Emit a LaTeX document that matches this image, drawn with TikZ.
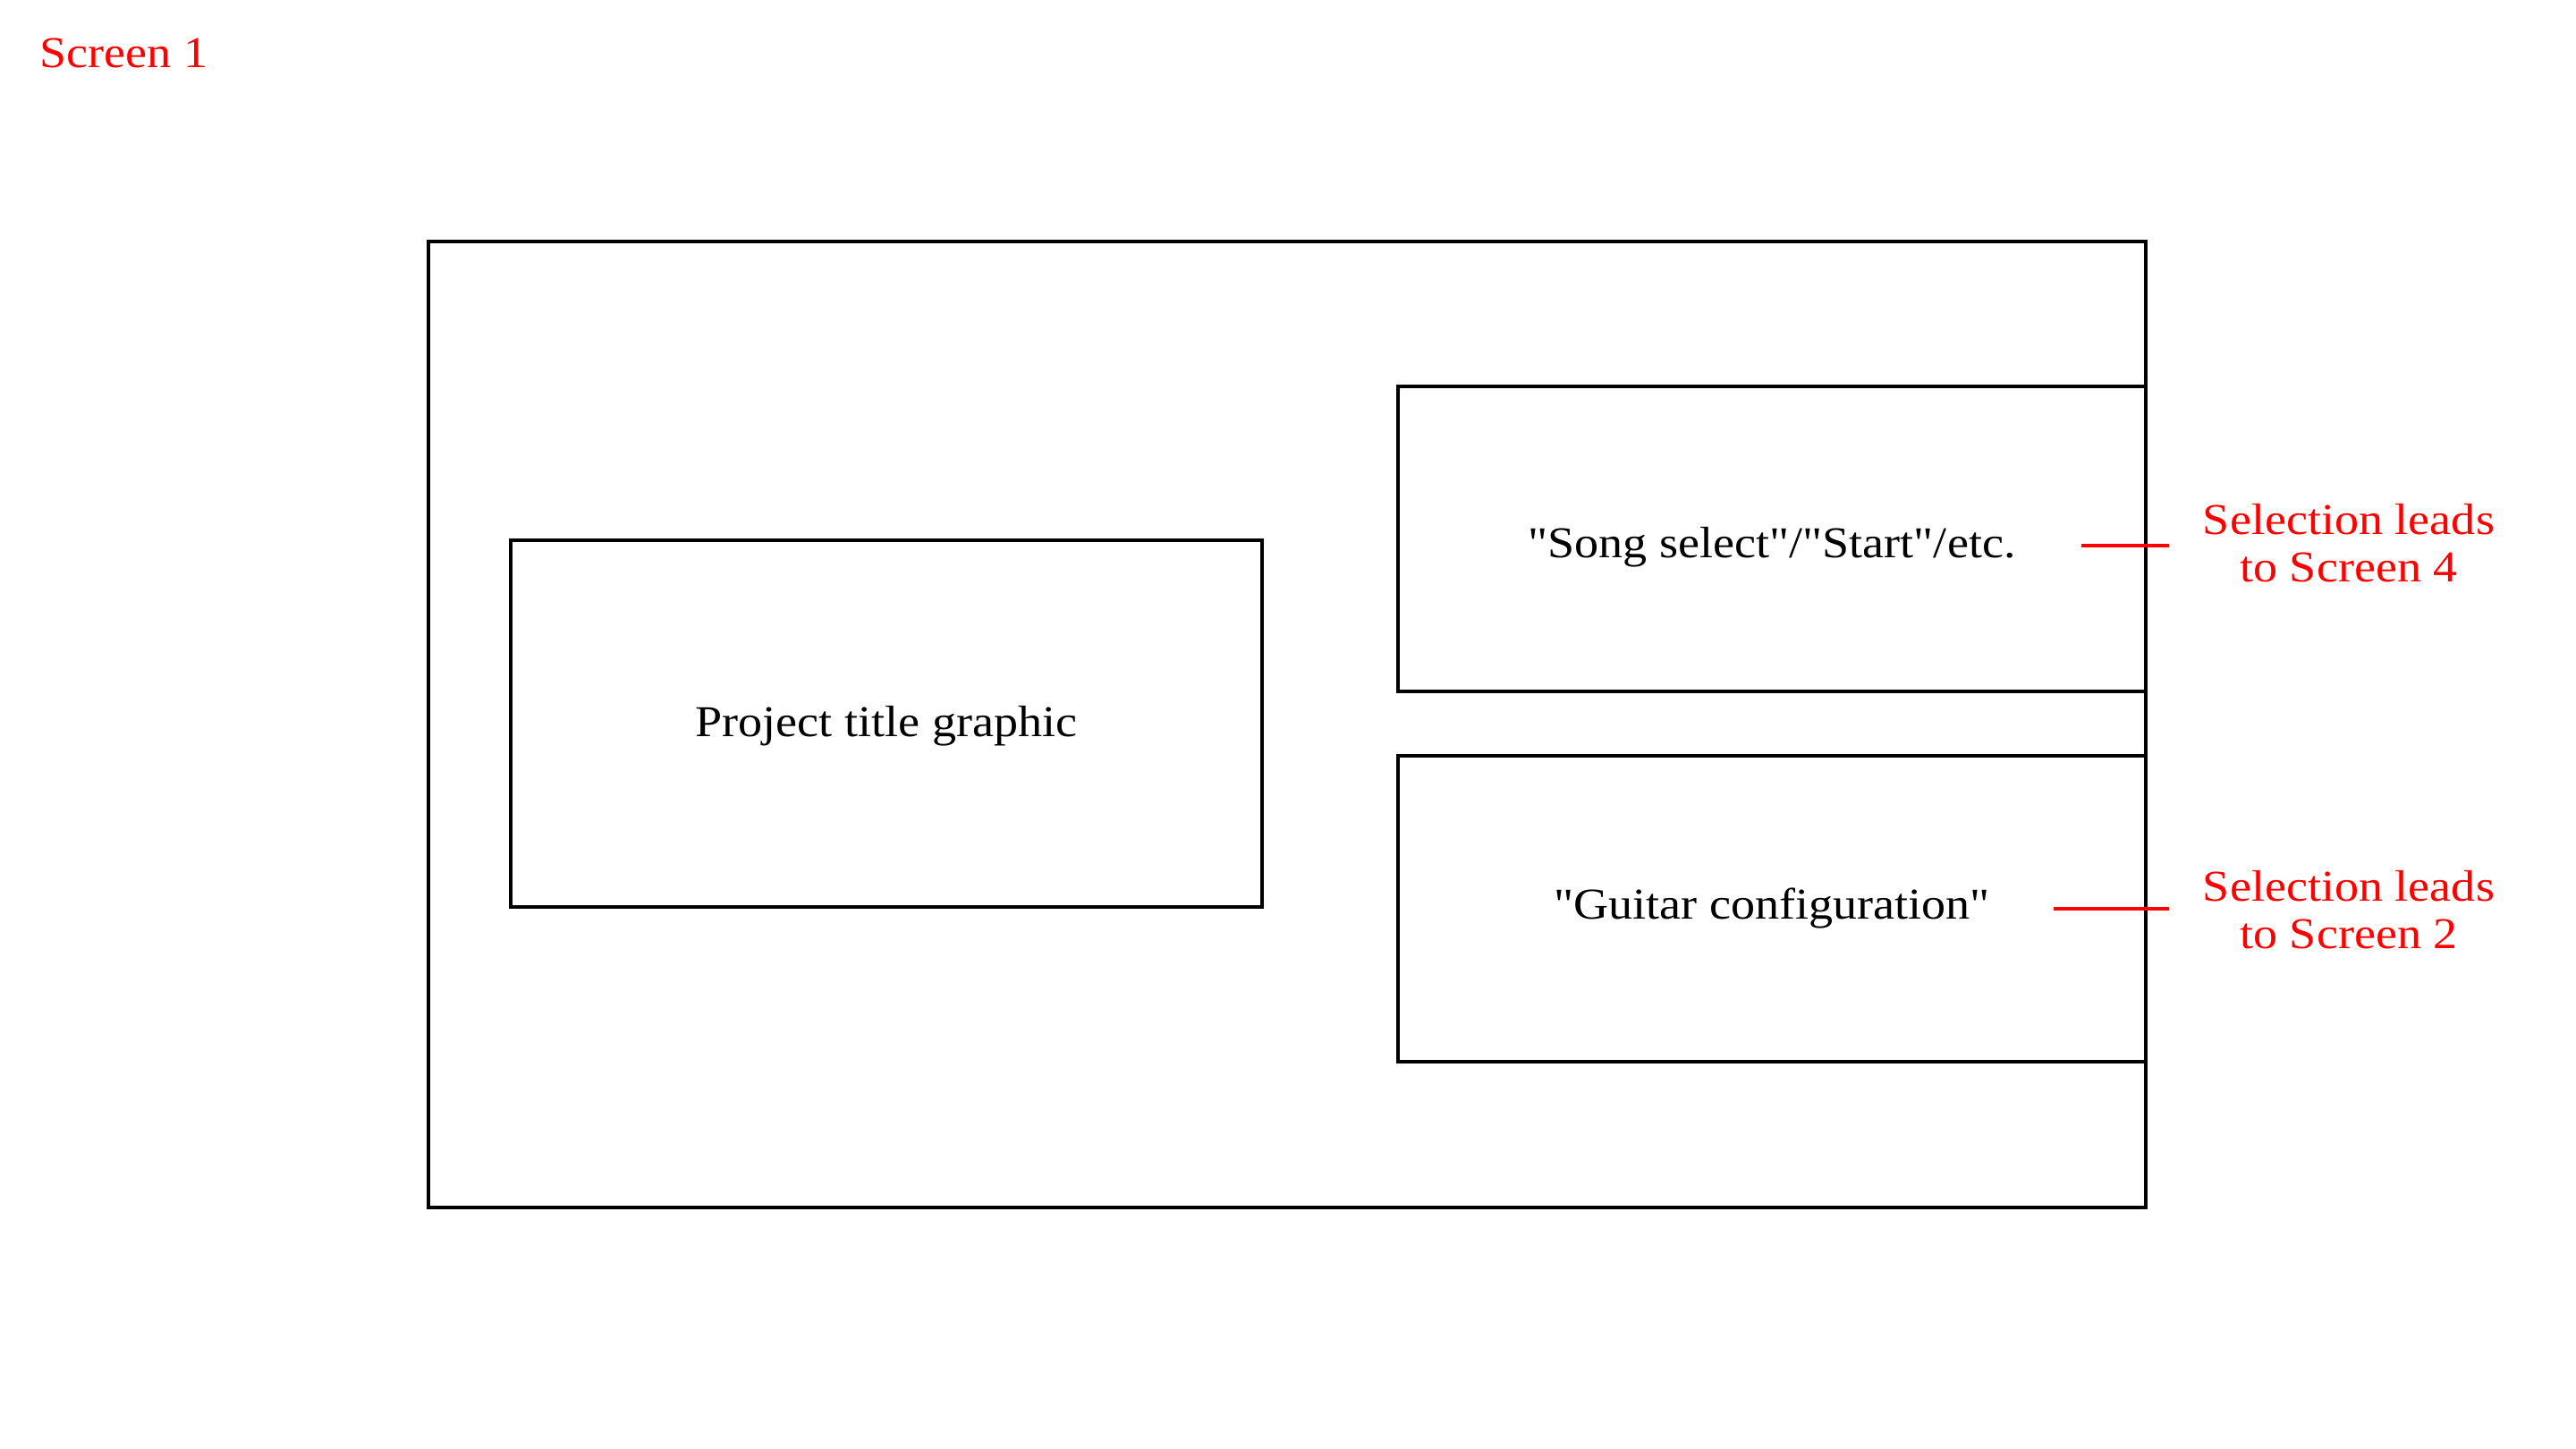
\documentclass[tikz,border=0pt]{standalone}
\usepackage{fontspec}
\setmainfont{Liberation Serif}[Ligatures=TeXOff, FakeStretch=1.1]
\begin{document}
\begin{tikzpicture}[
  font=\fontsize{14}{15.1}\selectfont,
  box/.style={draw, line width=1pt, inner sep=0pt, outer sep=0pt},
  note/.style={text=red, align=center},
  lead/.style={draw=red, line width=1pt}
]
  \useasboundingbox (0,0) rectangle (28.8,16.2);

  % Define nodes for all elements
  \node[note, anchor=west, inner sep=0pt] (S1) at (0.44,15.61) {Screen 1};
  \node[box, minimum width=19.2cm, minimum height=10.8cm] (Frame) at (14.39,8.10) {};
  \node[box, minimum width=8.4cm, minimum height=4.1cm, text height=11pt, text depth=3pt] (Title) at (9.91,8.11) {Project title graphic};
  \node[box, minimum width=8.36cm, minimum height=3.41cm, text height=15pt, text depth=3.3pt] (Song) at (19.81,10.175) {"Song select"/"Start"/etc.};
  \node[box, minimum width=8.36cm, minimum height=3.42cm] (Guitar) at (19.81,6.04) {"Guitar configuration"};
  \node[note] (ToS4) at (26.26,10.13) {Selection leads\\to Screen 4};
  \node[note] (ToS2) at (26.26,6.03) {Selection leads\\to Screen 2};

  % Draw red leader lines
  \coordinate (L4a) at (23.27,10.10);
  \coordinate (L4b) at (24.25,10.10);
  \coordinate (L2a) at (22.96,6.04);
  \coordinate (L2b) at (24.25,6.04);
  \draw[lead] (L4a) -- (L4b);
  \draw[lead] (L2a) -- (L2b);

\end{tikzpicture}
\end{document}
